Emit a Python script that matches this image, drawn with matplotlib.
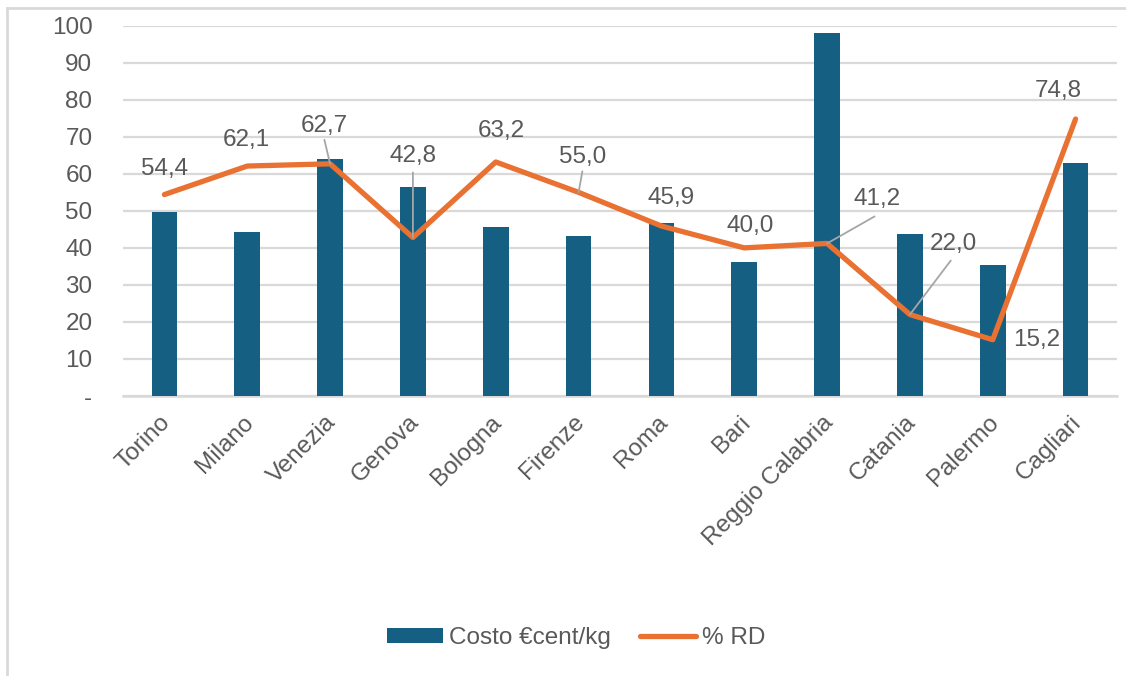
import matplotlib
matplotlib.use("Agg")
import matplotlib.pyplot as plt
from matplotlib.lines import Line2D
import matplotlib.transforms as mtransforms
import numpy as np

cities = ["Torino", "Milano", "Venezia", "Genova", "Bologna", "Firenze",
          "Roma", "Bari", "Reggio Calabria", "Catania", "Palermo", "Cagliari"]
costo = [49.7, 44.3, 64.0, 56.5, 45.7, 43.3, 46.6, 36.3, 98.0, 43.7, 35.5, 62.8]
rd = [54.4, 62.1, 62.7, 42.8, 63.2, 55.0, 45.9, 40.0, 41.2, 22.0, 15.2, 74.8]
y_ticks = [0, 10, 20, 30, 40, 50, 60, 70, 80, 90, 100]
y_tick_labels = ["-", "10", "20", "30", "40", "50", "60", "70", "80", "90", "100"]

# label offsets (pixels) and whether a leader line is drawn
label_offsets = [(0, 26), (-1, 26), (-6, 38), (0, 82), (6, 31), (4, 35),
                 (10, 28), (6, 22), (50, 44), (43, 71), (44, 0), (-17, 28)]
leaders = [False, False, True, True, False, True,
           False, False, True, True, False, False]

BLUE = "#156082"
ORANGE = "#E97132"
TEXT = "#595959"
GRID = "#D9D9D9"
FONT = "Liberation Sans"
FS = 17.5

plt.rcParams["font.family"] = [FONT, "DejaVu Sans"]

fig = plt.figure(figsize=(11.26, 6.76), dpi=100)
W, H = 1126, 676
left, right, top, bottom = 123, 1117, 25.7, 396
ax = fig.add_axes([left / W, 1 - bottom / H, (right - left) / W, (bottom - top) / H])

x = np.arange(len(cities))
bars = ax.bar(x, costo, width=0.31, color=BLUE, zorder=2, label="Costo €cent/kg")
line, = ax.plot(x, rd, color=ORANGE, lw=3.8, solid_capstyle="round",
                solid_joinstyle="round", zorder=3, clip_on=False, label="% RD")

ax.set_xlim(-0.5, len(cities) - 0.5)
ax.set_ylim(0, 100)
ax.set_yticks(y_ticks)
ax.set_yticklabels(y_tick_labels)
ax.yaxis.grid(True, color=GRID, lw=1.6, zorder=0)
ax.set_axisbelow(True)
for s in ["top", "right", "left"]:
    ax.spines[s].set_visible(False)
ax.spines["bottom"].set_color(GRID)
ax.spines["bottom"].set_linewidth(1.8)
ax.spines["bottom"].set_zorder(1)

ax.tick_params(axis="y", length=0, pad=22, labelsize=FS, labelcolor=TEXT)
ax.tick_params(axis="x", length=0, pad=11, labelsize=FS, labelcolor=TEXT)
ax.set_xticks(x)
ax.set_xticklabels(cities, rotation=45, ha="right", va="top", rotation_mode="anchor")
shift = mtransforms.ScaledTranslation(-5 / 100, 0, fig.dpi_scale_trans)
for lbl in ax.get_xticklabels():
    lbl.set_transform(lbl.get_transform() + shift)

for xi, v, (dx, dy), lead in zip(x, rd, label_offsets, leaders):
    txt = f"{v:.1f}".replace(".", ",")
    ax.annotate(txt, xy=(xi, v), xytext=(dx, dy), textcoords="offset pixels",
                ha="center", va="center", fontsize=FS, color=TEXT, zorder=4,
                annotation_clip=False)
    if lead:
        # leader from the point toward the label
        ax.annotate("", xy=(xi, v), xytext=(dx * 0.95, dy - 17 if dy > 40 else dy - 14),
                    textcoords="offset pixels",
                    arrowprops=dict(arrowstyle="-", color="#A6A6A6", lw=1.3,
                                    shrinkA=0, shrinkB=0), zorder=4)

leg = fig.legend([bars, line], ["Costo €cent/kg", "% RD"], loc="center",
                 bbox_to_anchor=(576 / W, 1 - 638 / H), ncol=2,
                 frameon=False, fontsize=FS, handlelength=2.3, handleheight=0.6,
                 columnspacing=1.2, handletextpad=0.25)
for t in leg.get_texts():
    t.set_color(TEXT)

# outer frame (top and left edges)
fig.add_artist(Line2D([6.5 / W, 6.5 / W], [0, 1 - 8 / H], color=GRID, lw=2))
fig.add_artist(Line2D([6.5 / W, 1], [1 - 8 / H, 1 - 8 / H], color=GRID, lw=2))

fig.savefig("out.png", dpi=100)
